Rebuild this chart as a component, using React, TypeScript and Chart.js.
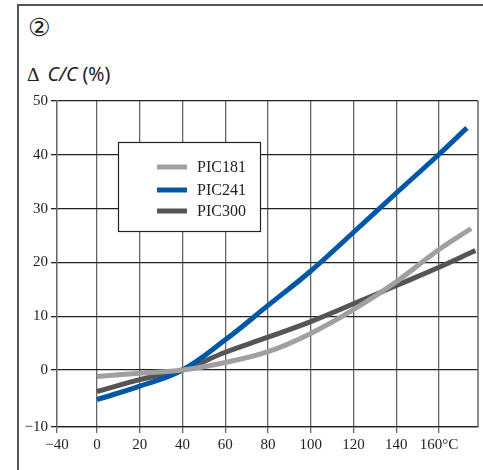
import React, { useEffect, useRef } from "react";
import { Chart, registerables } from "chart.js";

Chart.register(...registerables);

const pic181Temp = [0, 20, 40, 60, 80, 100, 120, 140, 160, 175];
const pic181Vals = [-1.2, -0.6, 0, 1.4, 3.4, 6.8, 11.2, 16.4, 22.4, 26.3];
const pic241Temp = [0, 20, 40, 60, 80, 100, 120, 140, 160, 173];
const pic241Vals = [-5.5, -3.0, 0, 5.6, 12.0, 18.4, 25.6, 32.9, 40.1, 45.0];
const pic300Temp = [0, 20, 40, 60, 80, 100, 120, 140, 160, 177];
const pic300Vals = [-4.0, -1.8, 0, 3.3, 6.1, 9.0, 12.3, 15.7, 19.1, 22.2];

const seriesNames = ["PIC181", "PIC241", "PIC300"];
const seriesColors = ["#a0a0a0", "#0057a8", "#555555"];

const xTickValues = [-18.7, 0, 20, 40, 60, 80, 100, 120, 140, 160];
const xTickLabels = ["\u221240", "0", "20", "40", "60", "80", "100", "120", "140", "160\u00b0C"];
const yTickValues = [-10.6, 0, 10, 20, 30, 40, 50];
const yTickLabels = ["\u221210", "0", "10", "20", "30", "40", "50"];

const serif = "'Liberation Serif', 'DejaVu Serif', serif";

const toPoints = (xs: number[], ys: number[]) => xs.map((x, i) => ({ x, y: ys[i] }));

const frameAndLegend = {
  id: "frameAndLegend",
  afterDatasetsDraw(chart: any) {
    const ctx = chart.ctx;
    const a = chart.chartArea;
    ctx.save();
    ctx.strokeStyle = "#666";
    ctx.lineWidth = 1.5;
    ctx.beginPath();
    ctx.moveTo(a.right, a.top);
    ctx.lineTo(a.right, a.bottom);
    ctx.stroke();
    const bx = 118, by = 142, bw = 142, bh = 89;
    ctx.fillStyle = "#fff";
    ctx.fillRect(bx, by, bw, bh);
    ctx.strokeStyle = "#222";
    ctx.lineWidth = 1.2;
    ctx.strokeRect(bx + 0.5, by + 0.5, bw, bh);
    const rows = [167, 190, 211];
    chart.data.datasets.forEach((ds: any, i: number) => {
      ctx.strokeStyle = ds.borderColor;
      ctx.lineWidth = 5;
      ctx.beginPath();
      ctx.moveTo(157, rows[i]);
      ctx.lineTo(187, rows[i]);
      ctx.stroke();
      ctx.fillStyle = "#222";
      ctx.font = `16px ${serif}`;
      ctx.textBaseline = "middle";
      ctx.textAlign = "left";
      ctx.fillText(ds.label, 197, rows[i] + 1);
    });
    ctx.restore();
  },
};

export default function App() {
  const canvasRef = useRef<HTMLCanvasElement | null>(null);

  useEffect(() => {
    if (!canvasRef.current) return;
    const chart = new Chart(canvasRef.current, {
      type: "line",
      data: {
        datasets: [
          { label: seriesNames[0], data: toPoints(pic181Temp, pic181Vals), borderColor: seriesColors[0] },
          { label: seriesNames[1], data: toPoints(pic241Temp, pic241Vals), borderColor: seriesColors[1] },
          { label: seriesNames[2], data: toPoints(pic300Temp, pic300Vals), borderColor: seriesColors[2] },
        ].map((d) => ({ ...d, borderWidth: 5, pointRadius: 0, fill: false, tension: 0.4 })),
      },
      options: {
        animation: false,
        responsive: false,
        maintainAspectRatio: false,
        layout: { padding: { left: 0, top: 101, right: 5, bottom: 0 } },
        plugins: { legend: { display: false }, tooltip: { enabled: false } },
        scales: {
          x: {
            type: "linear",
            min: -18.7,
            max: 178.2,
            afterBuildTicks: (scale: any) => {
              scale.ticks = xTickValues.map((v) => ({ value: v }));
            },
            afterFit: (scale: any) => {
              scale.height = 43;
            },
            ticks: {
              autoSkip: false,
              maxRotation: 0,
              padding: 3,
              color: "#222",
              font: { family: serif, size: 15 },
              callback: (v: any) => {
                const i = xTickValues.indexOf(Number(v));
                return i >= 0 ? xTickLabels[i] : "";
              },
            },
            grid: { color: "#666", lineWidth: 1.3, drawTicks: true, tickLength: 6 },
            border: { display: true, color: "#222", width: 1.3 },
          },
          y: {
            type: "linear",
            min: -10.6,
            max: 50,
            afterBuildTicks: (scale: any) => {
              scale.ticks = yTickValues.map((v) => ({ value: v }));
            },
            afterFit: (scale: any) => {
              scale.width = 57;
            },
            ticks: {
              autoSkip: false,
              padding: 3,
              color: "#222",
              font: { family: serif, size: 15 },
              callback: (v: any) => {
                const i = yTickValues.indexOf(Number(v));
                return i >= 0 ? yTickLabels[i] : "";
              },
            },
            grid: { color: "#222", lineWidth: 1.3, drawTicks: true, tickLength: 6 },
            border: { display: true, color: "#666", width: 1.3 },
          },
        },
      },
      plugins: [frameAndLegend],
    });
    return () => chart.destroy();
  }, []);

  return (
    <div style={{ position: "absolute", left: 0, top: 0, width: 483, height: 470, background: "#fff", overflow: "hidden" }}>
      <div
        style={{
          position: "absolute",
          left: 17,
          top: 4,
          width: 470,
          height: 470,
          borderTop: "2px solid #555",
          borderLeft: "2px solid #555",
        }}
      />
      <div
        style={{
          position: "absolute",
          left: 28,
          top: 13,
          fontFamily: "'DejaVu Sans', sans-serif",
          fontSize: 25,
          color: "#222",
          lineHeight: "30px",
        }}
      >
        ②
      </div>
      <div
        style={{
          position: "absolute",
          left: 27,
          top: 61,
          fontFamily: "'Noto Sans', 'DejaVu Sans', sans-serif",
          fontSize: 19.5,
          color: "#222",
          lineHeight: "26px",
          whiteSpace: "nowrap",
        }}
      >
        <span style={{ fontFamily: serif }}>Δ</span>
        <span style={{ marginLeft: 8, fontStyle: "italic" }}>C/C</span>
        <span style={{ marginLeft: 5 }}>(%)</span>
      </div>
      <canvas ref={canvasRef} width={483} height={470} style={{ position: "absolute", left: 0, top: 0 }} />
    </div>
  );
}
